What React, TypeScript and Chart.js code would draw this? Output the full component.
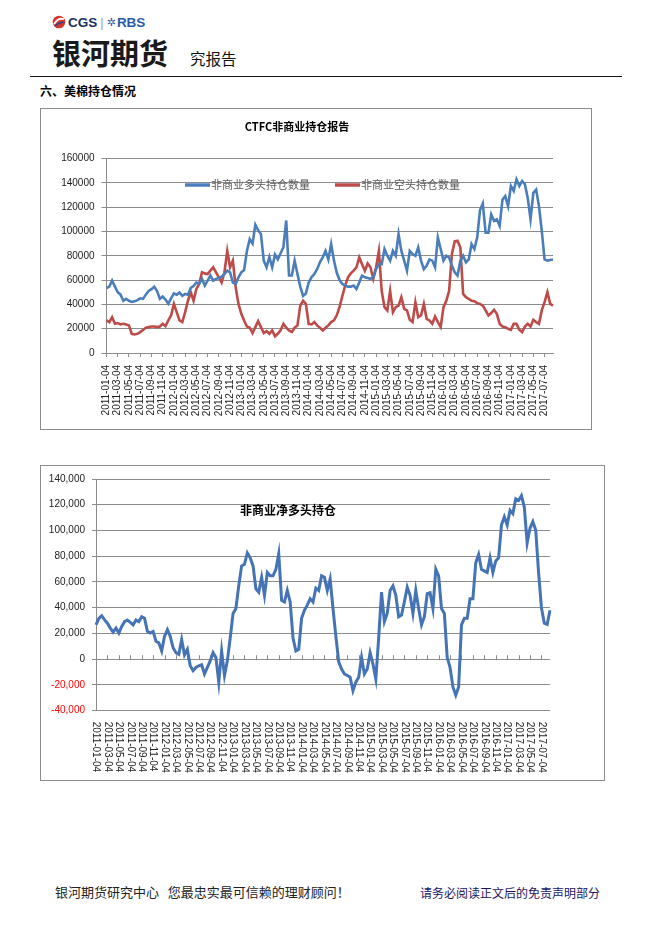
import React, { useEffect, useRef } from 'react';
import { Chart, registerables } from 'chart.js';

Chart.register(...registerables);

// ---------- data ----------
const YEARS = [2011, 2012, 2013, 2014, 2015, 2016, 2017];
const DAYS = ['04', '18'];
const POINT_COUNT = 160;
const TICK_EVERY = 4; // one tick label every two months

const categories: string[] = [];
for (const y of YEARS) {
  for (let m = 1; m <= 12; m++) {
    for (const d of DAYS) {
      if (categories.length < POINT_COUNT) {
        categories.push(`${y}-${String(m).padStart(2, '0')}-${d}`);
      }
    }
  }
}

const chart1Title = 'CTFC非商业持仓报告';
const longLabel = '非商业多头持仓数量';
const shortLabel = '非商业空头持仓数量';
const netTitle = '非商业净多头持仓';

const longPositions = [
  // 2011
  53500, 54600, 59500, 54600, 50000, 48000, 43000, 44500, 43000, 42000, 42500, 43500,
  45000, 44500, 48000, 51000, 52500, 54600, 51000, 44500, 46400, 44000, 40500, 45000,
  // 2012
  49000, 48000, 49700, 47000, 48600, 48000, 53500, 55000, 58000, 57000, 61000, 55500,
  59500, 63700, 59500, 61000, 61700, 62800, 65000, 67700, 66400, 58000, 56800, 62300,
  // 2013
  66400, 68300, 84000, 93700, 90000, 105500, 101000, 97800, 76000, 70500, 79000, 70500,
  81000, 77000, 82000, 87000, 109000, 63700, 63700, 76000, 65000, 54600, 47000, 49000,
  // 2014
  58000, 62300, 65000, 69000, 74600, 78700, 84000, 77000, 89600, 76000, 66000, 60000,
  56800, 55500, 54600, 54600, 55500, 52700, 58000, 63700, 62300, 61700, 61000, 62300,
  // 2015
  69000, 73000, 73000, 85500, 80000, 76000, 84000, 80000, 97800, 84000, 76000, 67700,
  84000, 81400, 80000, 86800, 76000, 69000, 71800, 77000, 76000, 70500, 95000, 85500,
  // 2016
  76000, 80000, 78700, 71800, 66400, 63700, 76000, 80000, 74600, 77000, 89600, 85500,
  95000, 117400, 122900, 99000, 99000, 114000, 108700, 110000, 104600, 126000, 129000, 120800,
  // 2017
  137400, 133300, 142900, 137400, 141500, 138800, 127600, 110000, 131700, 134400, 120800, 100500,
  77000, 76000, 76500, 77000,
];

const shortPositions = [
  // 2011
  26800, 25400, 29500, 24000, 24600, 23500, 24000, 23500, 22700, 15800, 15300, 15800,
  17200, 19000, 20800, 21300, 21800, 21800, 21300, 21800, 24000, 22000, 26800, 30900,
  // 2012
  40400, 33600, 26800, 25400, 33600, 43000, 50000, 43000, 52700, 56800, 66400, 65500,
  65000, 67700, 70500, 66400, 62300, 58000, 66400, 84000, 70500, 76000, 54000, 40400,
  // 2013
  32200, 26800, 21800, 20800, 16400, 21300, 26200, 21300, 16400, 18000, 15800, 18600,
  13700, 15800, 18600, 24000, 20800, 18600, 17200, 20800, 22700, 39000, 43000, 40400,
  // 2014
  24000, 23500, 25400, 22700, 20800, 18600, 20800, 22700, 25400, 26800, 31000, 38000,
  47000, 55500, 62300, 65500, 67700, 70500, 78700, 73000, 67700, 73700, 70500, 61000,
  // 2015
  70500, 84000, 51000, 37700, 35000, 51000, 33600, 37700, 39000, 45900, 36300, 35000,
  27300, 25400, 41800, 29500, 30900, 40400, 28100, 26800, 24000, 30000, 25400, 21300,
  // 2016
  37700, 43000, 51000, 81400, 91800, 92300, 86800, 48600, 45900, 44500, 43000, 42600,
  41000, 40400, 39000, 35000, 30900, 32800, 35500, 32200, 24000, 21800, 21300, 19900,
  // 2017
  19100, 24000, 24000, 19100, 17200, 21800, 24000, 21800, 27300, 25400, 24000, 35000,
  41800, 50000, 40400, 39000,
];

const netPositions = [
  // 2011
  26700, 31800, 33800, 30500, 28000, 24200, 21100, 24200, 20300, 25400, 29200, 30500,
  28700, 26700, 30500, 29200, 33000, 31800, 21600, 20300, 21600, 14000, 12700, 6400,
  // 2012
  17800, 22900, 17800, 8900, 5100, 3800, 15300, 3300, 7600, -5100, -8900, -6400,
  -5100, -4300, -11400, -6400, -1300, 5100, 1300, -17800, 6400, -12700, -1300, 16500,
  // 2013
  35600, 39400, 57200, 72500, 73700, 82600, 78800, 72500, 54700, 52100, 63600, 49600,
  67400, 64800, 64800, 69900, 82000, 45800, 44500, 53400, 44500, 16500, 6400, 7600,
  // 2014
  31800, 38100, 42000, 47000, 44500, 55200, 53400, 64800, 63600, 53400, 62300, 39400,
  18000, -2000, -7600, -11400, -12700, -14000, -24500, -17800, -14000, 1300, -11400, -7600,
  // 2015
  5100, -3800, -15300, 16500, 52100, 29200, 35600, 53400, 57000, 49600, 33000, 34300,
  44500, 55900, 49600, 35600, 53400, 39400, 26700, 33000, 50900, 51600, 39400, 69900,
  // 2016
  64800, 39400, 35600, 1300, -6400, -21600, -28000, -21600, 26700, 31800, 31800, 47000,
  47000, 75000, 81400, 69900, 68600, 67400, 78800, 67400, 76300, 78800, 104200, 110600,
  // 2017
  104200, 115700, 113100, 124600, 123300, 127100, 118200, 90300, 101700, 106800, 100400, 67400,
  40000, 28000, 27000, 38000,
];

// ---------- styles ----------
const BLUE = '#4A7EBB';
const RED = '#BE4B48';
const NET_BLUE = '#4473B6';
const GRID = '#8C8C8C';
const CJK = '"Noto Sans CJK SC", "Noto Sans", sans-serif';
const SANS = '"Liberation Sans", Arial, sans-serif';

// legend drawn inside the plot on one row (Excel style)
const inlineLegendPlugin = {
  id: 'inlineLegend',
  afterDatasetsDraw(chart: any) {
    const { ctx, chartArea } = chart;
    ctx.save();
    ctx.font = `11px ${CJK}`;
    ctx.textBaseline = 'middle';
    ctx.textAlign = 'left';
    const y = chartArea.top + 26.5;
    let x = chartArea.left + 78.5;
    chart.data.datasets.forEach((ds: any) => {
      ctx.strokeStyle = ds.borderColor;
      ctx.lineWidth = 3.5;
      ctx.beginPath();
      ctx.moveTo(x, y);
      ctx.lineTo(x + 25, y);
      ctx.stroke();
      x += 26;
      ctx.fillStyle = '#595959';
      ctx.fillText(ds.label, x, y);
      x += ctx.measureText(ds.label).width + 25;
    });
    ctx.restore();
  },
};

function PositionsChart() {
  const ref = useRef<HTMLCanvasElement | null>(null);
  useEffect(() => {
    if (!ref.current) return;
    const chart = new Chart(ref.current, {
      type: 'line',
      data: {
        labels: categories,
        datasets: [
          {
            label: longLabel,
            data: longPositions,
            borderColor: BLUE,
            backgroundColor: BLUE,
            borderWidth: 2.6,
            pointRadius: 0,
            tension: 0,
          },
          {
            label: shortLabel,
            data: shortPositions,
            borderColor: RED,
            backgroundColor: RED,
            borderWidth: 2.6,
            pointRadius: 0,
            tension: 0,
          },
        ],
      },
      options: {
        animation: false,
        responsive: false,
        maintainAspectRatio: false,
        layout: { padding: { left: 0, right: 38, top: 0, bottom: 0 } },
        plugins: {
          title: {
            display: true,
            text: chart1Title,
            color: '#000',
            font: { family: CJK, size: 11, weight: 'bold' },
            padding: { top: 11.4, bottom: 24.9 },
          },
          legend: { display: false },
          tooltip: { enabled: false },
        },
        scales: {
          x: {
            type: 'category',
            offset: false,
            grid: {
              drawOnChartArea: false,
              drawTicks: true,
              tickLength: 4,
              color: (ctx: any) => (ctx.index % TICK_EVERY === 0 ? GRID : 'rgba(0,0,0,0)'),
            },
            border: { color: GRID },
            ticks: {
              autoSkip: false,
              minRotation: 90,
              maxRotation: 90,
              padding: 8,
              color: '#222',
              font: { family: SANS, size: 10 },
              callback: (_v: any, i: number) => (i % TICK_EVERY === 0 ? categories[i] : ''),
            },
            afterFit: (s: any) => {
              s.height = 76;
            },
          },
          y: {
            min: 0,
            max: 160000,
            ticks: {
              stepSize: 20000,
              padding: 7,
              color: '#222',
              font: { family: SANS, size: 10 },
              callback: (v: any) => String(v),
            },
            grid: { color: GRID, tickLength: 5 },
            border: { color: GRID },
            afterFit: (s: any) => {
              s.width = 65.5;
            },
          },
        },
      },
      plugins: [inlineLegendPlugin],
    });
    return () => chart.destroy();
  }, []);
  return <canvas ref={ref} width={550} height={320} style={{ width: 550, height: 320, display: 'block' }} />;
}

const netAxisPlugin = {
  id: 'netAxis',
  beforeDatasetsDraw(chart: any) {
    const { ctx, scales } = chart;
    const y0 = scales.y.getPixelForValue(0);
    ctx.save();
    ctx.strokeStyle = GRID;
    ctx.lineWidth = 1;
    for (let i = 0; i < categories.length; i += TICK_EVERY) {
      const px = Math.round(scales.x.getPixelForValue(i)) + 0.5;
      ctx.beginPath();
      ctx.moveTo(px, y0 - 4);
      ctx.lineTo(px, y0 + 1);
      ctx.stroke();
    }
    ctx.restore();
  },
  afterDraw(chart: any) {
    const { ctx, scales, chartArea } = chart;
    ctx.save();
    ctx.font = `10px ${SANS}`;
    ctx.fillStyle = '#222';
    ctx.textAlign = 'left';
    ctx.textBaseline = 'middle';
    for (let i = 0; i < categories.length; i += TICK_EVERY) {
      const px = scales.x.getPixelForValue(i);
      ctx.save();
      ctx.translate(px, chartArea.bottom + 11);
      ctx.rotate(Math.PI / 2);
      ctx.fillText(categories[i], 0, 0);
      ctx.restore();
    }
    ctx.font = `bold 12px ${CJK}`;
    ctx.fillStyle = '#000';
    ctx.fillText(netTitle, chartArea.left + 144, chartArea.top + 31.3);
    ctx.restore();
  },
};

function NetChart() {
  const ref = useRef<HTMLCanvasElement | null>(null);
  useEffect(() => {
    if (!ref.current) return;
    const chart = new Chart(ref.current, {
      type: 'line',
      data: {
        labels: categories,
        datasets: [
          {
            label: netTitle,
            data: netPositions,
            borderColor: NET_BLUE,
            backgroundColor: NET_BLUE,
            borderWidth: 3,
            pointRadius: 0,
            tension: 0,
          },
        ],
      },
      options: {
        animation: false,
        responsive: false,
        maintainAspectRatio: false,
        layout: { padding: { left: 0, right: 54, top: 8.7, bottom: 0 } },
        plugins: {
          legend: { display: false },
          title: { display: false },
          tooltip: { enabled: false },
        },
        scales: {
          x: {
            type: 'category',
            offset: false,
            grid: { display: false },
            border: { display: false },
            ticks: { display: false },
            afterFit: (s: any) => {
              s.height = 69.3;
            },
          },
          y: {
            min: -40000,
            max: 140000,
            ticks: {
              stepSize: 20000,
              padding: 7,
              font: { family: SANS, size: 10 },
              color: (ctx: any) => (ctx.tick && ctx.tick.value < 0 ? '#FF0000' : '#222'),
              callback: (v: any) => Number(v).toLocaleString('en-US'),
            },
            grid: { color: GRID, tickLength: 4 },
            border: { color: GRID },
            afterFit: (s: any) => {
              s.width = 55;
            },
          },
        },
      },
      plugins: [netAxisPlugin],
    });
    return () => chart.destroy();
  }, []);
  return <canvas ref={ref} width={563} height={314} style={{ width: 563, height: 314, display: 'block' }} />;
}

const abs = (left: number, top: number, extra: React.CSSProperties = {}): React.CSSProperties => ({
  position: 'absolute',
  left,
  top,
  ...extra,
});

export default function App() {
  return (
    <div
      style={{
        position: 'absolute',
        left: 0,
        top: 0,
        width: 662,
        height: 936,
        background: '#fff',
        overflow: 'hidden',
        fontFamily: CJK,
      }}
    >
      {/* header logo */}
      <div style={abs(52, 13, { display: 'flex', alignItems: 'center', height: 18, whiteSpace: 'nowrap' })}>
        <svg width="14" height="14" viewBox="0 0 20 20" style={{ marginRight: 2 }}>
          <circle cx="10" cy="10" r="9" fill="#D8332E" />
          <path d="M3 13 Q9 3 17 6" stroke="#fff" strokeWidth="2.6" fill="none" />
          <path d="M4 16 Q11 9 18 11" stroke="#1F4C99" strokeWidth="2" fill="none" />
        </svg>
        <span style={{ fontFamily: SANS, fontWeight: 'bold', fontSize: 13.5, color: '#1B2F63' }}>CGS</span>
        <span style={{ fontFamily: SANS, fontSize: 13, color: '#9AA3B5', margin: '0 3px' }}>|</span>
        <span style={{ fontFamily: '"DejaVu Sans", sans-serif', fontSize: 11, color: '#2A5BAA', marginRight: 1 }}>✲</span>
        <span style={{ fontFamily: SANS, fontWeight: 'bold', fontSize: 13.5, color: '#2A5BAA' }}>RBS</span>
      </div>
      <div style={abs(52, 34, { fontSize: 29, fontWeight: 'bold', color: '#1a1a1a', lineHeight: '36px' })}>银河期货</div>
      <div style={abs(190, 48, { fontSize: 15.5, color: '#111', lineHeight: '20px' })}>究报告</div>
      <div style={abs(30, 76, { width: 592, height: 0, borderTop: '1.5px solid #111' })} />
      <div style={abs(40, 83, { fontSize: 12, fontWeight: 'bold', color: '#000', lineHeight: '16px' })}>六、美棉持仓情况</div>

      {/* chart 1 */}
      <div
        style={abs(40, 108, {
          width: 552,
          height: 322,
          border: '1px solid #8C8C8C',
          boxSizing: 'border-box',
        })}
      >
        <PositionsChart />
      </div>

      {/* chart 2 */}
      <div
        style={abs(40, 465, {
          width: 565,
          height: 316,
          border: '1px solid #8C8C8C',
          boxSizing: 'border-box',
        })}
      >
        <NetChart />
      </div>

      {/* footer */}
      <div style={abs(55, 883, { fontSize: 13, color: '#222', lineHeight: '18px', whiteSpace: 'pre' })}>
        银河期货研究中心   您最忠实最可信赖的理财顾问！
      </div>
      <div style={abs(420, 885, { fontSize: 12, color: '#1B1464', lineHeight: '16px', whiteSpace: 'pre' })}>
        请务必阅读正文后的免责声明部分
      </div>
    </div>
  );
}
